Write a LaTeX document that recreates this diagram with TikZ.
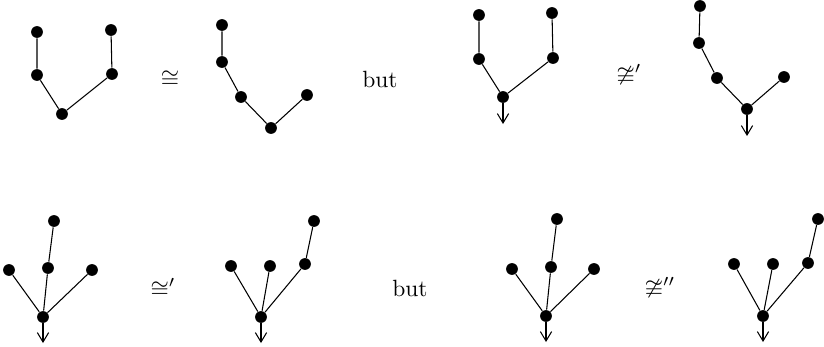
\documentclass[tikz,border=0pt]{standalone}
\usepackage{amssymb}
\usetikzlibrary{arrows.meta}
\begin{document}
\begin{tikzpicture}[x=0.4255pt,y=-0.4255pt,
  dot/.style={circle,fill=black,inner sep=0pt,minimum size=5pt},
  edge/.style={line width=0.45pt},
  rootarrow/.style={line width=0.45pt,-{Straight Barb[length=4pt,width=4.8pt,line width=0.45pt]}},
  rel/.style={inner sep=0pt}]
\useasboundingbox (0,0) rectangle (824,347);
% Tree 1
\node[dot] (a1) at (37,32) {};
\node[dot] (a2) at (37,75) {};
\node[dot] (a3) at (62,114) {};
\node[dot] (a4) at (112,74) {};
\node[dot] (a5) at (111,30) {};
\draw[edge] (a1) -- (a2) -- (a3) -- (a4) -- (a5);
\node[rel] (r1) at (170,79) {$\cong$};
% Tree 2
\node[dot] (b1) at (222,25) {};
\node[dot] (b2) at (222,62) {};
\node[dot] (b3) at (241,97) {};
\node[dot] (b4) at (271,128) {};
\node[dot] (b5) at (307,95) {};
\draw[edge] (b1) -- (b2) -- (b3) -- (b4) -- (b5);
\node[rel] (t1) at (380,79) {but};
% Tree 3
\node[dot] (c1) at (479,15) {};
\node[dot] (c2) at (479,59) {};
\node[dot] (c3) at (503,97) {};
\node[dot] (c4) at (553,58) {};
\node[dot] (c5) at (552,13) {};
\coordinate (c6) at (503,124);
\draw[edge] (c1) -- (c2) -- (c3) -- (c4) -- (c5);
\draw[rootarrow] (c3) -- (c6);
\node[rel] (r2) at (629,76) {$\ncong'$};
% Tree 4
\node[dot] (d1) at (700,6) {};
\node[dot] (d2) at (699,43) {};
\node[dot] (d3) at (717,78) {};
\node[dot] (d4) at (747,109) {};
\node[dot] (d5) at (784,77) {};
\coordinate (d6) at (747,136);
\draw[edge] (d1) -- (d2) -- (d3) -- (d4) -- (d5);
\draw[rootarrow] (d4) -- (d6);
% Tree 5
\node[dot] (e0) at (43,317) {};
\node[dot] (e1) at (9,270) {};
\node[dot] (e2) at (48,268) {};
\node[dot] (e3) at (54,221) {};
\node[dot] (e4) at (92,270) {};
\coordinate (e5) at (43,343);
\draw[edge] (e1) -- (e0) -- (e2) -- (e3);
\draw[edge] (e0) -- (e4);
\draw[rootarrow] (e0) -- (e5);
\node[rel] (r3) at (163,288) {$\cong'$};
% Tree 6
\node[dot] (f0) at (261,317) {};
\node[dot] (f1) at (231,266) {};
\node[dot] (f2) at (270,266) {};
\node[dot] (f3) at (305,264) {};
\node[dot] (f4) at (314,221) {};
\coordinate (f5) at (261,343);
\draw[edge] (f1) -- (f0) -- (f2);
\draw[edge] (f0) -- (f3) -- (f4);
\draw[rootarrow] (f0) -- (f5);
\node[rel] (t2) at (410,288) {but};
% Tree 7
\node[dot] (g0) at (546,316) {};
\node[dot] (g1) at (512,269) {};
\node[dot] (g2) at (551,267) {};
\node[dot] (g3) at (557,219) {};
\node[dot] (g4) at (594,269) {};
\coordinate (g5) at (546,342);
\draw[edge] (g1) -- (g0) -- (g2) -- (g3);
\draw[edge] (g0) -- (g4);
\draw[rootarrow] (g0) -- (g5);
\node[rel] (r4) at (660,289) {$\ncong''$};
% Tree 8
\node[dot] (h0) at (763,316) {};
\node[dot] (h1) at (734,264) {};
\node[dot] (h2) at (773,264) {};
\node[dot] (h3) at (808,263) {};
\node[dot] (h4) at (818,219) {};
\coordinate (h5) at (763,342);
\draw[edge] (h1) -- (h0) -- (h2);
\draw[edge] (h0) -- (h3) -- (h4);
\draw[rootarrow] (h0) -- (h5);
\end{tikzpicture}
\end{document}
